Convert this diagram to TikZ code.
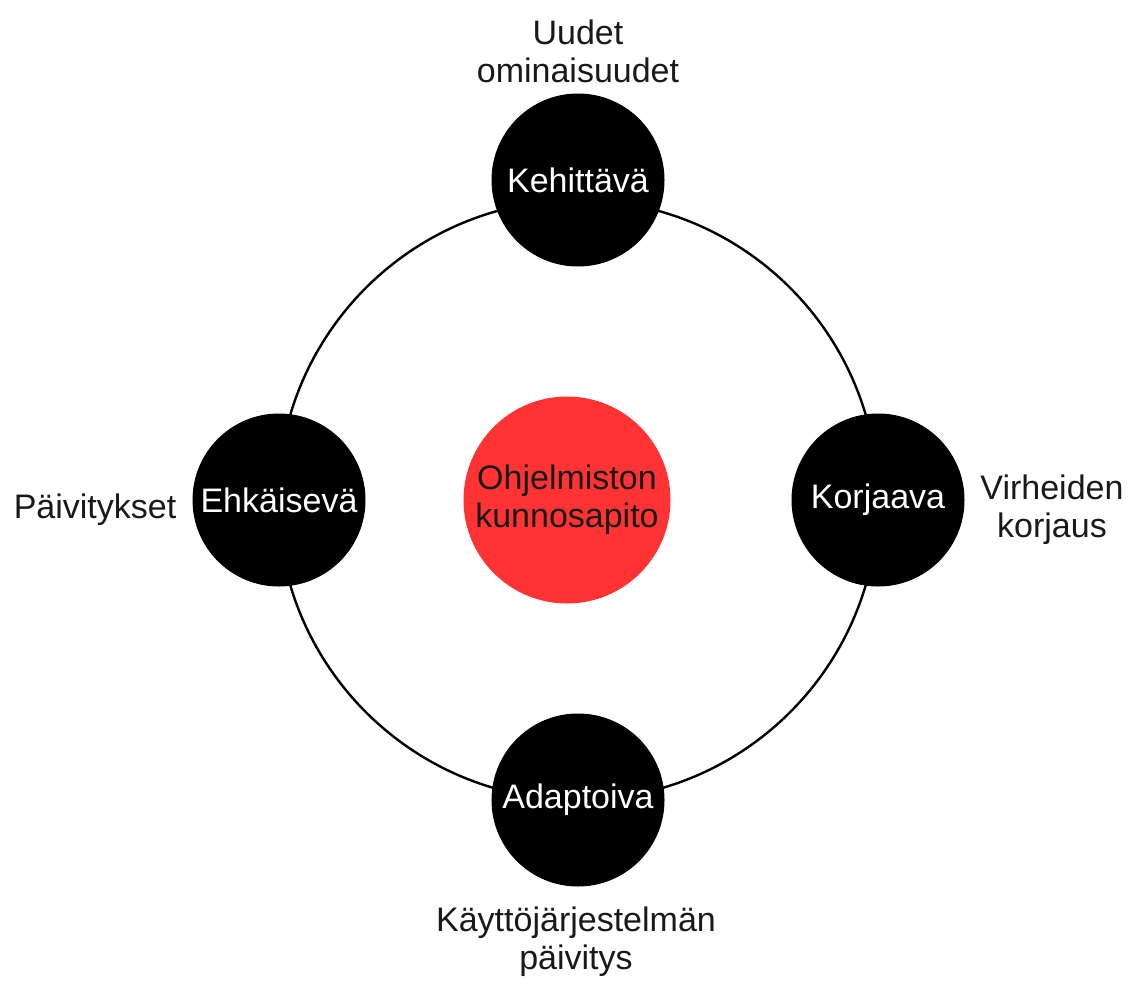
\documentclass[tikz,border=0pt]{standalone}
\usepackage{fontspec}
\setmainfont{Liberation Sans}
\definecolor{corered}{HTML}{FF3333}
\tikzset{
  kind/.style={circle, fill=black, draw=black, line width=1pt, minimum size=172pt,
    inner sep=0pt, text=white, font=\fontsize{34}{38}\selectfont},
  core/.style={circle, fill=corered, minimum size=207pt, inner sep=0pt,
    text=black!90, align=center, font=\fontsize{34}{38}\selectfont},
  note/.style={align=center, text=black!90, inner sep=0pt, font=\fontsize{34}{38}\selectfont},
  ring/.style={line width=2.4pt, draw=black}
}
\begin{document}
\begin{tikzpicture}[x=1pt, y=-1pt]
  \useasboundingbox (0,0) rectangle (1130,985);
  % the maintenance cycle
  \coordinate (hub) at (578,500);
  \draw[ring] (hub) circle[radius=300pt];
  % centre topic
  \node[core] (topic) at (567,500) {Ohjelmiston\\kunnosapito};
  % the four kinds of maintenance
  \node[kind] (dev)   at (578,180) {Kehittävä};
  \node[kind] (fix)   at (878,500) {Korjaava};
  \node[kind] (adapt) at (578,800) {Adaptoiva};
  \node[kind] (prev)  at (279,500) {Ehkäisevä};
  % examples beside each kind
  \node[note] (devnote)   at (578,51)  {Uudet\\ominaisuudet};
  \node[note] (fixnote)   at (1052,510) {Virheiden\\korjaus};
  \node[note] (adaptnote) at (576,942) {Käyttöjärjestelmän\\päivitys};
  \node[note] (prevnote)  at (95,510)  {Päivitykset};
\end{tikzpicture}
\end{document}
